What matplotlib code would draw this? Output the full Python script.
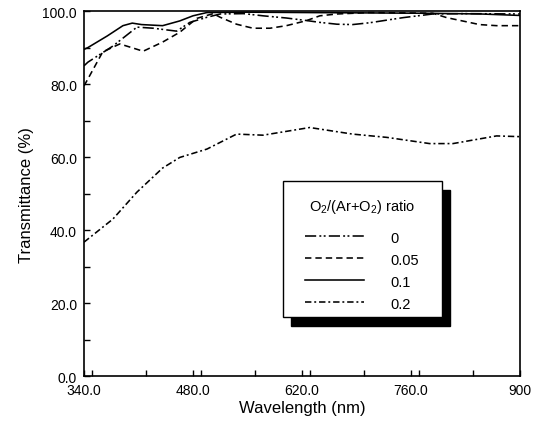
import matplotlib
matplotlib.use("Agg")
import matplotlib.pyplot as plt
from matplotlib.patches import Rectangle
from matplotlib.ticker import FixedLocator, FixedFormatter, MultipleLocator

plt.rcParams["font.family"] = ["Liberation Sans", "DejaVu Sans"]
plt.rcParams["mathtext.fontset"] = "custom"
plt.rcParams["mathtext.rm"] = "Liberation Sans"

# ratio 0 (dash-dot-dot)
wl_0 = [340, 345, 377, 408, 429, 459, 476, 498, 515, 545, 570, 600, 626, 643, 665, 685, 707, 750, 788, 830, 900]
tr_0 = [85.0, 86.0, 90.4, 95.6, 95.3, 94.5, 96.9, 98.3, 99.2, 99.3, 98.7, 98.1, 97.4, 96.9, 96.4, 96.3, 96.8, 98.2, 99.2, 99.3, 99.2]

# ratio 0.05 (dashed)
wl_005 = [340, 345, 364, 386, 416, 441, 463, 485, 506, 515, 536, 557, 579, 600, 617, 626, 643, 665, 707, 788, 806, 835, 848, 870, 900]
tr_005 = [79.5, 81.4, 88.8, 91.0, 89.0, 91.5, 94.2, 98.0, 99.3, 98.3, 96.4, 95.3, 95.3, 96.0, 96.9, 97.4, 98.7, 99.2, 99.6, 99.4, 98.2, 96.9, 96.3, 96.0, 96.0]

# ratio 0.1 (solid)
wl_01 = [340, 345, 370, 390, 402, 414, 441, 463, 480, 498, 550, 620, 700, 780, 850, 900]
tr_01 = [89.5, 90.0, 93.2, 96.0, 96.7, 96.3, 96.0, 97.3, 98.7, 99.6, 99.7, 99.6, 99.5, 99.4, 99.2, 98.8]

# ratio 0.2 (dash-dot)
wl_02 = [340, 377, 408, 441, 463, 498, 536, 570, 630, 685, 729, 784, 814, 870, 900]
tr_02 = [36.7, 43.0, 50.4, 57.0, 59.9, 62.2, 66.3, 66.0, 68.1, 66.3, 65.4, 63.7, 63.7, 65.8, 65.6]

ratio_labels = ["0", "0.05", "0.1", "0.2"]
x_ticks = [340, 480, 620, 760, 900]
x_tick_labels = ["340.0", "480.0", "620.0", "760.0", "900"]
y_ticks = [0, 20, 40, 60, 80, 100]
y_tick_labels = ["0.0", "20.0", "40.0", "60.0", "80.0", "100.0"]

fig = plt.figure(figsize=(5.49, 4.31), dpi=100)
ax = fig.add_axes([0.153, 0.125, 0.794, 0.847])

ax.plot(wl_0, tr_0, color="black", lw=1.15, linestyle=(0, (7, 2, 1.2, 1.5, 1.2, 2)), label=ratio_labels[0])
ax.plot(wl_005, tr_005, color="black", lw=1.15, linestyle=(0, (4, 2.5)), label=ratio_labels[1])
ax.plot(wl_01, tr_01, color="black", lw=1.15, linestyle="-", label=ratio_labels[2])
ax.plot(wl_02, tr_02, color="black", lw=1.15, linestyle=(0, (4, 1.8, 1.2, 1.8)), label=ratio_labels[3])

ax.set_xlim(340, 900)
ax.set_ylim(0, 100)
ax.xaxis.set_major_locator(FixedLocator(x_ticks))
ax.xaxis.set_major_formatter(FixedFormatter(x_tick_labels))
ax.xaxis.set_minor_locator(MultipleLocator(70))
ax.yaxis.set_major_locator(FixedLocator(y_ticks))
ax.yaxis.set_major_formatter(FixedFormatter(y_tick_labels))
ax.yaxis.set_minor_locator(MultipleLocator(10))
ax.tick_params(which="both", direction="in", length=4, width=1.0, labelsize=10, color="black")
ax.tick_params(axis="x", pad=5)
ax.tick_params(axis="y", pad=5)
for s in ax.spines.values():
    s.set_linewidth(1.2)

ax.set_xlabel("Wavelength (nm)", fontsize=12, labelpad=2)
ax.set_ylabel("Transmittance (%)", fontsize=12, labelpad=6)

# legend box with solid black shadow
bx, by, bw, bh = 0.456, 0.162, 0.365, 0.373
ax.add_patch(Rectangle((bx + 0.019, by - 0.025), bw, bh, transform=ax.transAxes,
                       facecolor="black", edgecolor="black", zorder=4))
ax.add_patch(Rectangle((bx, by), bw, bh, transform=ax.transAxes,
                       facecolor="white", edgecolor="black", lw=1.0, zorder=5))

leg = ax.legend(loc="upper center", bbox_to_anchor=(bx + bw / 2, by + bh - 0.045),
                frameon=False, fontsize=10.5, title="O$_\\mathregular{2}$/(Ar+O$_\\mathregular{2}$) ratio",
                title_fontsize=10.5, handlelength=4.0, handletextpad=1.85,
                labelspacing=0.55, borderpad=0, borderaxespad=0)
leg.set_zorder(6)
leg._legend_box.sep = 11

fig.savefig("out.png", dpi=100)
